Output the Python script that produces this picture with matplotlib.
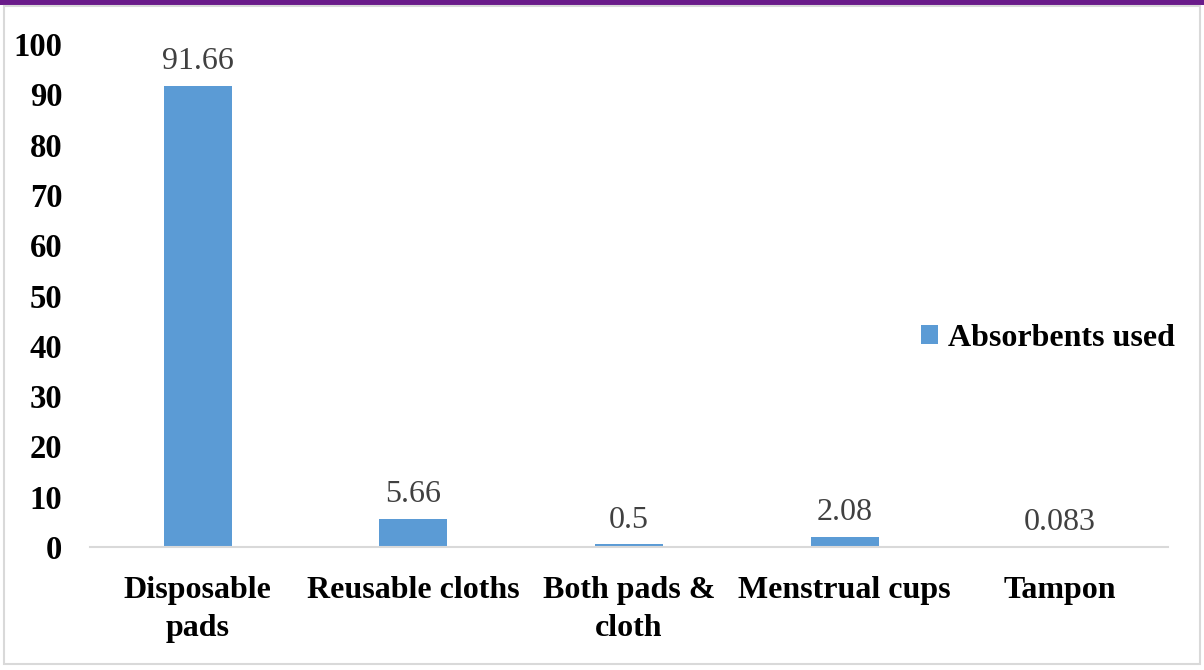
import matplotlib
matplotlib.use("Agg")
import matplotlib.pyplot as plt
from matplotlib.patches import Rectangle

categories = ["Disposable\npads", "Reusable cloths", "Both pads &\ncloth", "Menstrual cups", "Tampon"]
values = [91.66, 5.66, 0.5, 2.08, 0.083]
value_labels = ["91.66", "5.66", "0.5", "2.08", "0.083"]
series_name = "Absorbents used"
yticks = [0, 10, 20, 30, 40, 50, 60, 70, 80, 90, 100]

plt.rcParams['font.family'] = ['Liberation Serif', 'DejaVu Serif']

fig = plt.figure(figsize=(12.04, 6.70), dpi=100)
fig.patches.append(Rectangle((0, 1 - 5/670), 1, 5/670, transform=fig.transFigure,
                             facecolor="#6a1b8a", edgecolor="none", zorder=0))
fig.patches.append(Rectangle((4/1204, 6/670), 1196/1204, 658/670, transform=fig.transFigure,
                             facecolor="none", edgecolor="#d9d9d9", linewidth=1.5, zorder=0))

ax = fig.add_axes([90/1204, 1 - 547/670, (1168-90)/1204, (547-44)/670])
x = list(range(len(categories)))
bars = ax.bar(x, values, width=0.315, color="#5b9bd5", label=series_name, zorder=2)
ax.set_xlim(-0.5, len(categories) - 0.5)
ax.set_ylim(0, 100)
ax.set_yticks(yticks)
ax.set_yticklabels([str(t) for t in yticks], fontsize=23.5, fontweight="bold")
ax.set_xticks(x)
ax.set_xticklabels(categories, fontsize=23, fontweight="bold", linespacing=1.38, va="top")
ax.tick_params(axis="both", length=0)
ax.tick_params(axis="x", pad=21)
ax.tick_params(axis="y", pad=20)
for s in ["top", "right", "left"]:
    ax.spines[s].set_visible(False)
ax.spines["bottom"].set_color("#d9d9d9")
ax.spines["bottom"].set_linewidth(1.5)
for xi, v, lab in zip(x, values, value_labels):
    ax.annotate(lab, (xi, v), xytext=(0, 7), textcoords="offset points",
                ha="center", va="bottom", fontsize=23, color="#404040")
leg = ax.legend(loc="center left", bbox_to_anchor=(0.744, 0.415), frameon=False,
                prop={"size": 23, "weight": "bold"}, handlelength=0.55, handleheight=0.55,
                handletextpad=0.3)
fig.savefig("out.png", dpi=100)
